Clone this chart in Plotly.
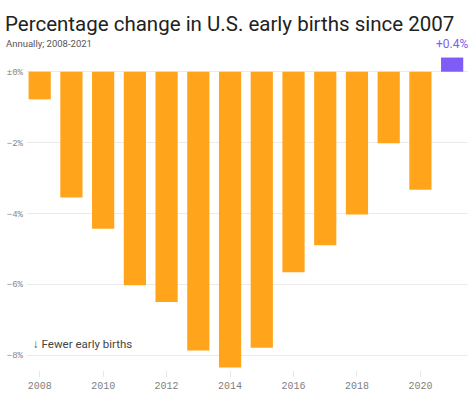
import plotly.graph_objects as go

years = [2008, 2009, 2010, 2011, 2012, 2013, 2014, 2015, 2016, 2017, 2018, 2019, 2020, 2021]
pct_change = [-0.78, -3.55, -4.43, -6.03, -6.5, -7.87, -8.35, -7.79, -5.66, -4.9, -4.03, -2.02, -3.33, 0.4]
y_ticks = [0, -2, -4, -6, -8]
y_tick_labels = ["±0%", "−2%", "−4%", "−6%", "−8%"]
x_ticks = [2008, 2010, 2012, 2014, 2016, 2018, 2020]

ORANGE = "#FFA41B"
PURPLE = "#7F5CF6"
colors = [PURPLE if v > 0 else ORANGE for v in pct_change]

fig = go.Figure(go.Bar(x=years, y=pct_change, marker=dict(color=colors, line=dict(width=0)),
                       width=0.7, hoverinfo="skip"))

L, R, T, B = 27, 6, 54, 26
W, H = 474, 396
pw, ph = W - L - R, H - T - B

def px_x(x):
    return (x - L) / pw

def px_y(y):
    return (H - B - y) / ph

fig.update_layout(
    width=W, height=H,
    margin=dict(l=L, r=R, t=T, b=B, autoexpand=False),
    paper_bgcolor="white", plot_bgcolor="white",
    showlegend=False,
    font=dict(family="Roboto, Inter, sans-serif"),
    xaxis=dict(range=[2007.6, 2021.5], tickvals=x_ticks, ticktext=[str(t) for t in x_ticks],
               showgrid=False, zeroline=False, showline=False, automargin=False,
               ticks="outside", ticklen=6, tickcolor="#e6e6e6", tickwidth=1,
               tickfont=dict(family="Liberation Mono, DejaVu Sans Mono, monospace", size=10, color="#808080")),
    yaxis=dict(range=[-8.42, 0.5], tickvals=y_ticks, ticktext=y_tick_labels,
               showgrid=True, gridcolor="#ebebeb", gridwidth=1, zeroline=False,
               ticks="", ticklabelstandoff=3, automargin=False,
               tickfont=dict(family="Liberation Mono, DejaVu Sans Mono, monospace", size=9, color="#888888")),
)

fig.add_annotation(text="Percentage change in U.S. early births since 2007", xref="paper", yref="paper",
                   x=px_x(3), y=px_y(24), xanchor="left", yanchor="middle", showarrow=False,
                   font=dict(size=20.5, color="#222222", family="Roboto, sans-serif"))
fig.add_annotation(text="Annually; 2008-2021", xref="paper", yref="paper", x=px_x(4), y=px_y(43),
                   xanchor="left", yanchor="middle", showarrow=False,
                   font=dict(size=9.5, color="#555555", family="Roboto, sans-serif"))
fig.add_annotation(text="+0.4%", x=2021, y=0.4, yshift=5, xref="x", yref="y",
                   xanchor="center", yanchor="bottom", showarrow=False,
                   font=dict(size=12, color=PURPLE, family="Roboto, sans-serif"))
fig.add_annotation(text="↓ Fewer early births", xref="x", yref="y", x=2007.72, y=-7.7,
                   xanchor="left", yanchor="middle", showarrow=False,
                   font=dict(size=11.5, color="#444444", family="Roboto, sans-serif"))

fig.write_html("out.html", config={"displayModeBar": False},
               post_script="document.body.style.margin='0';document.body.style.padding='0';")
